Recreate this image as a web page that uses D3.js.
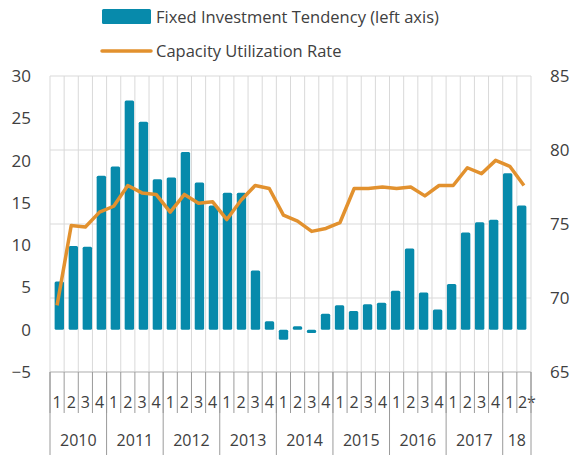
<!DOCTYPE html>
<html>
<head>
<meta charset="utf-8">
<script src="https://cdn.jsdelivr.net/npm/d3@7"></script>
<style>
	body { margin: 0; background: #fff; }
	text { font-family: "Open Sans", sans-serif; fill: #404040; }
</style>
</head>
<body>
<svg id="chart"></svg>
<script>
// DATA

var years = ["2010", "2011", "2012", "2013", "2014", "2015", "2016", "2017", "18"];
var quartersPerYear = [4, 4, 4, 4, 4, 4, 4, 4, 2];
var quarterLabels = ["1","2","3","4","1","2","3","4","1","2","3","4","1","2","3","4",
	"1","2","3","4","1","2","3","4","1","2","3","4","1","2","3","4","1","2*"];

var investment = [5.7, 9.9, 9.8, 18.2, 19.3, 27.1, 24.6, 17.8, 18.0, 21.0, 17.4, 14.7,
	16.2, 16.2, 7.0, 1.0, -1.2, 0.4, -0.4, 1.9, 2.9, 2.2, 3.0, 3.2,
	4.6, 9.6, 4.4, 2.4, 5.4, 11.5, 12.7, 13.0, 18.5, 14.7];

var capacity = [69.5, 74.9, 74.8, 75.8, 76.2, 77.6, 77.1, 77.0, 75.8, 77.0, 76.4, 76.5,
	75.3, 76.6, 77.6, 77.4, 75.6, 75.2, 74.5, 74.7, 75.1, 77.4, 77.4, 77.5,
	77.4, 77.5, 76.9, 77.6, 77.6, 78.8, 78.4, 79.3, 78.9, 77.6];

var leftTicks = [-5, 0, 5, 10, 15, 20, 25, 30];
var rightTicks = [65, 70, 75, 80, 85];

// DIMENSIONS

var width = 574,
	height = 455,
	plotLeft = 50,
	plotRight = 531,
	plotTop = 76,
	plotBottom = 372;

var barColor = '#078aab',
	lineColor = '#e2912e',
	gridColor = '#d9d9d9';

var idx = d3.range(investment.length);

var x = d3.scaleBand()
	.domain(idx)
	.range([plotLeft, plotRight]);

var xBar = d3.scaleBand()
	.domain(idx)
	.range([plotLeft, plotRight])
	.padding(0.33);

var yLeft = d3.scaleLinear()
	.domain([-5, 30])
	.range([plotBottom, plotTop]);

var yRight = d3.scaleLinear()
	.domain([65, 85])
	.range([plotBottom, plotTop]);

var svg = d3.select('#chart')
	.attr('width', width)
	.attr('height', height);

// grid

svg.append('g')
	.selectAll('line').data(rightTicks)
	.enter().append('line')
	.attr('x1', plotLeft).attr('x2', plotRight)
	.attr('y1', function(d) { return yRight(d); })
	.attr('y2', function(d) { return yRight(d); })
	.style('stroke', gridColor)
	.style('stroke-width', 1);

svg.append('g')
	.selectAll('line').data(d3.range(investment.length + 1))
	.enter().append('line')
	.attr('x1', function(d) { return plotLeft + d * x.step(); })
	.attr('x2', function(d) { return plotLeft + d * x.step(); })
	.attr('y1', plotTop).attr('y2', plotBottom)
	.style('stroke', gridColor)
	.style('stroke-width', 1);

// bars

svg.append('g')
	.selectAll('rect').data(investment)
	.enter().append('rect')
	.attr('x', function(d, i) { return xBar(i); })
	.attr('width', xBar.bandwidth())
	.attr('y', function(d) { return yLeft(Math.max(0, d)); })
	.attr('height', function(d) { return Math.abs(yLeft(d) - yLeft(0)); })
	.attr('rx', 1.5)
	.style('fill', barColor);

// line

var line = d3.line()
	.x(function(d, i) { return x(i) + x.bandwidth() / 2; })
	.y(function(d) { return yRight(d); });

svg.append('path')
	.datum(capacity)
	.attr('d', line)
	.style('fill', 'none')
	.style('stroke', lineColor)
	.style('stroke-width', 3.5)
	.style('stroke-linejoin', 'round');

// axes

var leftAxis = svg.append('g')
	.attr('transform', 'translate(' + (plotLeft - 19) + ',0)')
	.call(d3.axisLeft(yLeft).tickValues(leftTicks).tickSize(0));
leftAxis.select('.domain').remove();
leftAxis.selectAll('text')
	.attr('x', 0)
	.style('font-size', '17px')
	.style('font-family', '"Open Sans", sans-serif')
	.style('fill', '#404040');

var rightAxis = svg.append('g')
	.attr('transform', 'translate(' + (plotRight + 19) + ',0)')
	.call(d3.axisRight(yRight).tickValues(rightTicks).tickSize(0));
rightAxis.select('.domain').remove();
rightAxis.selectAll('text')
	.attr('x', 0)
	.style('font-size', '17px')
	.style('font-family', '"Open Sans", sans-serif')
	.style('fill', '#404040');

// category axis

var axisG = svg.append('g');

axisG.append('line')
	.attr('x1', plotLeft).attr('x2', plotRight)
	.attr('y1', plotBottom).attr('y2', plotBottom)
	.style('stroke', '#bfbfbf');

axisG.selectAll('.qsep').data(d3.range(investment.length + 1))
	.enter().append('line')
	.attr('x1', function(d) { return plotLeft + d * x.step(); })
	.attr('x2', function(d) { return plotLeft + d * x.step(); })
	.attr('y1', plotBottom).attr('y2', 413)
	.style('stroke', '#9a9a9a');

axisG.selectAll('.qlab').data(quarterLabels)
	.enter().append('text')
	.attr('x', function(d, i) { return x(i) + x.bandwidth() / 2 + (d == '2*' ? 3 : 0); })
	.attr('y', 408)
	.attr('text-anchor', 'middle')
	.style('font-size', '16px')
	.text(function(d) { return d; });

var yearStart = [0];
quartersPerYear.forEach(function(n, i) { yearStart.push(yearStart[i] + n); });

axisG.selectAll('.ysep').data(yearStart)
	.enter().append('line')
	.attr('x1', function(d) { return plotLeft + d * x.step(); })
	.attr('x2', function(d) { return plotLeft + d * x.step(); })
	.attr('y1', plotBottom).attr('y2', height)
	.style('stroke', '#9a9a9a');

axisG.selectAll('.ylab').data(years)
	.enter().append('text')
	.attr('x', function(d, i) { return plotLeft + (yearStart[i] + quartersPerYear[i] / 2) * x.step(); })
	.attr('y', 446)
	.attr('text-anchor', 'middle')
	.style('font-size', '16px')
	.text(function(d) { return d; });

// legend

var legend = svg.append('g');

legend.append('rect')
	.attr('x', 102).attr('y', 9)
	.attr('width', 49).attr('height', 15)
	.attr('rx', 1.5)
	.style('fill', barColor);

legend.append('text')
	.attr('x', 156).attr('y', 23)
	.style('font-size', '16.5px')
	.text('Fixed Investment Tendency (left axis)');

legend.append('line')
	.attr('x1', 102).attr('x2', 151)
	.attr('y1', 51).attr('y2', 51)
	.style('stroke', lineColor)
	.style('stroke-width', 3.5)
	.style('stroke-linecap', 'round');

legend.append('text')
	.attr('x', 156).attr('y', 57)
	.style('font-size', '16.5px')
	.text('Capacity Utilization Rate');
</script>
</body>
</html>
